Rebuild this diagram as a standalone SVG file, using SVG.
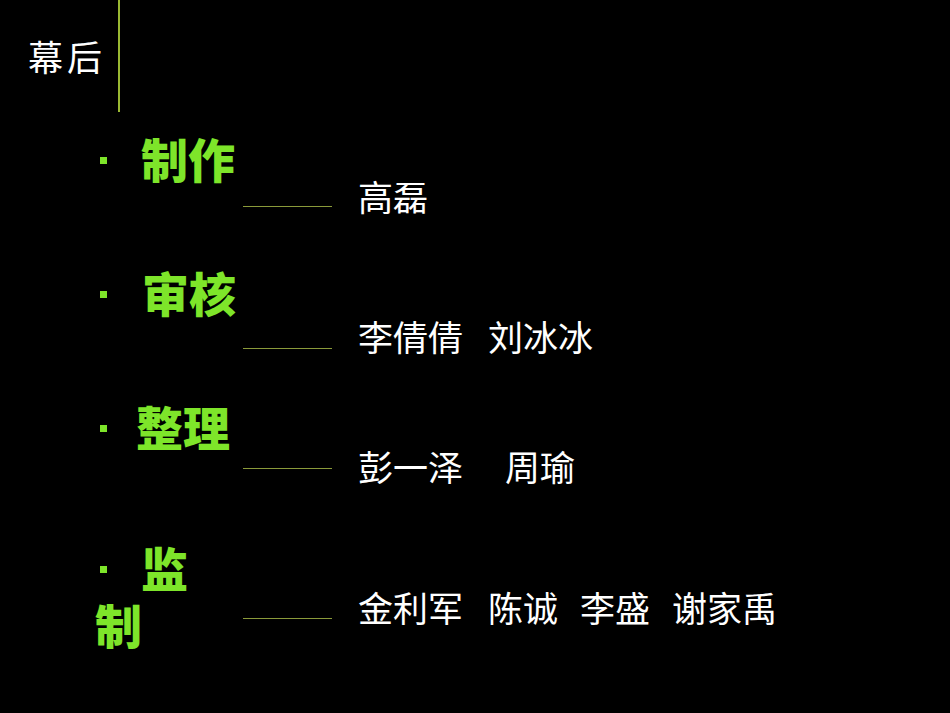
<svg xmlns="http://www.w3.org/2000/svg" width="950" height="713" viewBox="0 0 950 713">
<style>
.h{font-family:"Noto Sans CJK SC",sans-serif;font-weight:900;font-size:47px;fill:#7ee52a}
.n{font-family:"Noto Sans CJK SC",sans-serif;font-size:35px;fill:#ffffff}
.d{fill:#7ee52a}
.l{stroke:#8a9a3a;stroke-width:1}
</style>
<rect width="950" height="713" fill="#000"/>
<text class="n" x="28" y="71" textLength="74">幕后</text>
<line x1="119" y1="0" x2="119" y2="112" stroke="#9ab832" stroke-width="2"/>
<g id="zhizuo"><rect class="d" x="100" y="157" width="7" height="7"/><text class="h" x="141" y="178">制作</text></g>
<g id="shenhe"><rect class="d" x="100" y="291" width="7" height="7"/><text class="h" x="142" y="312">审核</text></g>
<g id="zhengli"><rect class="d" x="100" y="425" width="7" height="7"/><text class="h" x="136" y="446">整理</text></g>
<g id="jianzhi"><rect class="d" x="100" y="566" width="7" height="7"/><text class="h" x="141" y="587">监</text><text class="h" x="95" y="644">制</text></g>
<g id="connectors">
<line class="l" x1="243" y1="206.5" x2="332" y2="206.5"/>
<line class="l" x1="243" y1="348.5" x2="332" y2="348.5"/>
<line class="l" x1="243" y1="468.5" x2="332" y2="468.5"/>
<line class="l" x1="243" y1="618.5" x2="332" y2="618.5"/>
</g>
<text class="n" x="358" y="211">高磊</text>
<text class="n" y="351"><tspan x="358">李倩倩</tspan><tspan x="488">刘冰冰</tspan></text>
<text class="n" y="481"><tspan x="358">彭一泽</tspan><tspan x="505">周瑜</tspan></text>
<text class="n" y="622"><tspan x="358">金利军</tspan><tspan x="488">陈诚</tspan><tspan x="580">李盛</tspan><tspan x="672">谢家禹</tspan></text>
</svg>
